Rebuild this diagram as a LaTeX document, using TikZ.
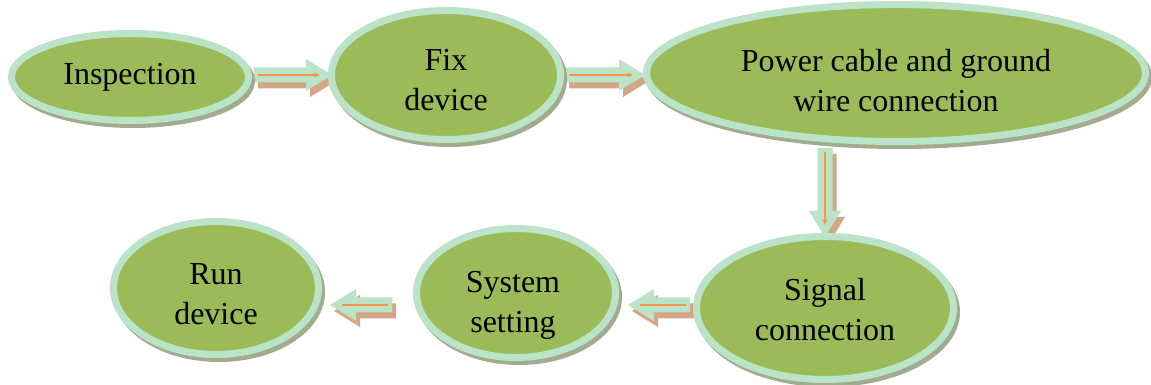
\documentclass[tikz,border=0pt]{standalone}
\usepackage{fontspec}
\setmainfont{Liberation Serif}
\usetikzlibrary{calc,arrows.meta,shapes.geometric}

\definecolor{leaf}{HTML}{9BBB59}
\definecolor{mint}{HTML}{BAE3C7}
\definecolor{haze}{HTML}{A3AB8E}
\definecolor{clay}{HTML}{D4A586}
\definecolor{tang}{HTML}{F79646}

\pgfdeclarelayer{back}
\pgfsetlayers{back,main}

% block arrow from one named coordinate to another, with a drop shadow
% and a thin line along its axis
\newdimen\fsx \newdimen\fsy \newdimen\fdx \newdimen\fdy
\newcommand\arrowoutline{(0,7.5) -- ({\flen-26},7.5) -- ({\flen-26},16) -- (\flen,0)
  -- ({\flen-26},-16) -- ({\flen-26},-7.5) -- (0,-7.5) -- cycle}
\newcommand\flowarrow[3][]{%
  \pgfextractx{\fsx}{\pgfpointanchor{#2}{center}}%
  \pgfextracty{\fsy}{\pgfpointanchor{#2}{center}}%
  \pgfextractx{\fdx}{\pgfpointdiff{\pgfpointanchor{#2}{center}}{\pgfpointanchor{#3}{center}}}%
  \pgfextracty{\fdy}{\pgfpointdiff{\pgfpointanchor{#2}{center}}{\pgfpointanchor{#3}{center}}}%
  \pgfmathsetmacro\flen{veclen(\the\fdx,\the\fdy)}%
  \pgfmathsetmacro\fang{atan2(\the\fdy,\the\fdx)}%
  \begin{scope}[shift={(4,-6)}]
    \begin{scope}[shift={(\fsx,\fsy)},rotate=\fang]
      \fill[clay] \arrowoutline;
    \end{scope}
  \end{scope}
  \begin{scope}[shift={(\fsx,\fsy)},rotate=\fang]
    \fill[mint] \arrowoutline;
    \draw[tang,line width=1.2pt,#1] (4,0) -- ({\flen-12},0);
  \end{scope}}

\tikzset{
  stage/.style={ellipse, fill=leaf, draw=mint, line width=7pt, inner sep=0pt,
    preaction={draw=haze, fill=haze, line width=7pt,
      transform canvas={xshift=3pt,yshift=-4pt}}},
  caption/.style={font=\fontsize{32}{40}\selectfont, align=center, text=black,
    inner sep=0pt},
  pointed/.style={-{Stealth[length=6pt,width=5pt]}},
}

\begin{document}
\begin{tikzpicture}[x=1pt,y=1pt]
\useasboundingbox (0,0) rectangle (1151,385);

% stages
\node[stage, minimum width=237, minimum height=87]  (insp)   at (130,308) {};
\node[stage, minimum width=229, minimum height=129] (fix)    at (446,310) {};
\node[stage, minimum width=499, minimum height=137] (power)  at (896,312) {};
\node[stage, minimum width=257, minimum height=143] (signal) at (825,77)  {};
\node[stage, minimum width=199, minimum height=129] (system) at (516,92)  {};
\node[stage, minimum width=205, minimum height=133] (run)    at (216,97)  {};

% captions
\node[caption] (insp-t)   at (insp.center)              {Inspection};
\node[caption] (fix-t)    at ($(fix.center)+(0,-5)$)    {Fix\\device};
\node[caption] (power-t)  at ($(power.center)+(0,-8)$)  {Power cable and ground\\wire connection};
\node[caption] (signal-t) at ($(signal.center)+(0,-2)$) {Signal\\connection};
\node[caption] (system-t) at ($(system.center)+(-3,-12.5)$) {System\\setting};
\node[caption] (run-t)    at ($(run.center)+(0,-6)$)    {Run\\device};

% arrow end points
\coordinate (a1s) at ($(insp.east)+(2,2)$);
\coordinate (a1e) at ($(fix.west |- a1s)+(4,0)$);
\coordinate (a2s) at ($(fix.east |- a1s)+(1,0)$);
\coordinate (a2e) at ($(power.west |- a1s)+(2,0)$);
\coordinate (a3s) at ($(signal.north |- power.south)+(0,-3)$);
\coordinate (a3e) at ($(signal.north)+(0,-4)$);
\coordinate (a4s) at ($(signal.west)+(-3,3)$);
\coordinate (a4e) at ($(system.east |- a4s)+(9,0)$);
\coordinate (a5s) at ($(system.west |- a4s)+(-21,0)$);
\coordinate (a5e) at ($(run.east |- a4s)+(8,0)$);

\begin{pgfonlayer}{back}
  \fill[white] (0,0) rectangle (1151,385);
  \flowarrow[pointed]{a1s}{a1e}
  \flowarrow[pointed]{a2s}{a2e}
  \flowarrow[pointed]{a3s}{a3e}
  \flowarrow{a4s}{a4e}
  \flowarrow{a5s}{a5e}
\end{pgfonlayer}
\end{tikzpicture}
\end{document}
